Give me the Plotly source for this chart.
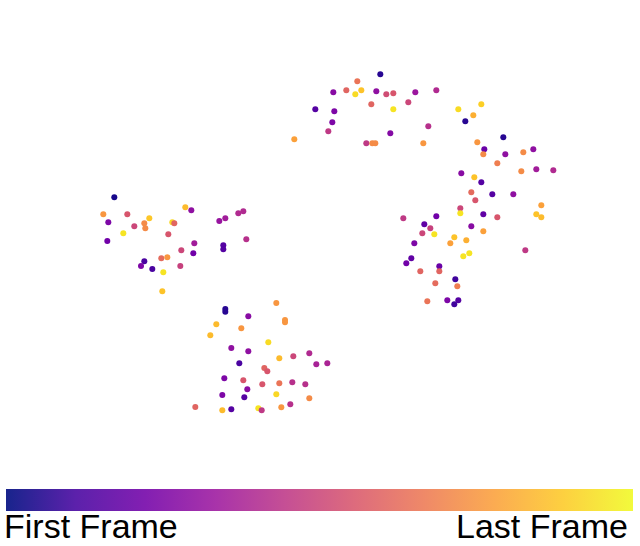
import plotly.graph_objects as go
import plotly.colors as pc

# Point positions (embedding coordinates) and frame fraction (0=first,1=last)
x = [
    # left cluster
    114.3, 103.3, 127.3, 108.3, 134.3, 123.3, 144.3, 145.3, 149.3, 107.3,
    185.3, 191.3, 172.3, 174.3, 168.3, 219.3, 225.3, 238.3, 243.3, 246.3,
    194.3, 193.3, 223.3, 223.3, 181.3, 144.3, 141.0, 152.3, 161.3, 167.3,
    180.3, 163.3, 162.3,
    # bottom cluster
    225.3, 225.3, 276.3, 248.3, 285.0, 285.0, 216.3, 241.3, 210.3, 268.3,
    231.3, 248.3, 279.3, 293.3, 309.3, 316.3, 327.3, 239.3, 264.3, 267.3,
    224.3, 243.3, 262.3, 279.3, 292.3, 305.3, 247.3, 222.3, 244.3, 276.3,
    309.3, 195.3, 222.3, 231.3, 258.3, 261.7, 281.3, 290.3,
    # top arc
    380.3, 357.3, 333.3, 346.3, 361.3, 355.3, 376.3, 386.3, 393.3, 415.3,
    436.3, 315.3, 334.3, 371.3, 393.3, 408.3, 332.3, 328.3, 294.3, 390.3,
    428.3, 366.3, 372.3, 375.3, 423.3, 458.3, 481.3, 473.3, 465.3, 477.3,
    484.3,
    # right cluster
    503.3, 483.3, 505.3, 523.3, 533.3, 497.3, 521.3, 536.3, 553.3, 461.3,
    474.3, 481.3, 471.3, 475.3, 492.3, 513.3, 541.3, 536.3, 541.3, 460.3,
    460.3, 483.3, 497.3, 403.3, 436.3, 424.3, 430.3, 422.3, 434.3, 471.3,
    483.3, 454.3, 466.3, 450.3, 414.3, 469.3, 463.3, 525.3, 411.3, 406.3,
    439.3, 420.3, 439.3, 455.3, 435.3, 457.3, 427.3, 447.3, 458.3, 454.3,
]
y = [
    197.3, 214.3, 214.3, 222.3, 226.3, 233.3, 223.3, 228.3, 218.3, 241.0,
    207.3, 210.3, 222.3, 223.3, 234.3, 221.0, 218.3, 213.3, 211.3, 239.3,
    243.3, 253.3, 245.3, 249.3, 250.3, 261.3, 266.0, 269.0, 258.3, 257.3,
    266.0, 272.3, 291.3,
    309.0, 311.7, 303.0, 316.3, 320.0, 322.3, 324.3, 328.3, 335.3, 342.3,
    348.0, 351.3, 358.3, 356.3, 353.3, 364.3, 363.3, 363.3, 368.0, 371.3,
    378.3, 380.3, 384.3, 383.3, 382.3, 384.3, 389.3, 395.0, 397.3, 394.3,
    398.3, 407.0, 410.3, 409.3, 408.3, 410.3, 407.3, 404.3,
    74.3, 81.3, 92.3, 90.3, 90.3, 94.3, 91.3, 94.3, 93.3, 92.3,
    90.3, 109.3, 111.3, 104.3, 109.3, 102.3, 122.3, 131.3, 139.3, 133.3,
    126.3, 143.3, 143.3, 143.3, 143.3, 109.3, 104.3, 115.3, 121.3, 142.3,
    149.3,
    137.3, 154.3, 154.3, 152.3, 149.3, 163.3, 171.3, 169.3, 170.3, 173.3,
    177.3, 182.3, 192.3, 200.3, 194.3, 194.3, 205.3, 214.3, 217.3, 208.3,
    213.3, 214.3, 217.3, 218.3, 216.3, 224.3, 228.3, 233.3, 234.3, 226.3,
    231.3, 237.3, 240.3, 243.3, 243.3, 253.3, 256.3, 250.3, 258.3, 263.3,
    266.3, 271.3, 271.3, 279.3, 283.3, 286.3, 301.3, 300.3, 300.3, 304.3,
]
frame = [
    0.02, 0.75, 0.55, 0.25, 0.50, 0.95, 0.72, 0.72, 0.88, 0.22,
    0.85, 0.30, 0.92, 0.60, 0.55, 0.32, 0.35, 0.40, 0.40, 0.42,
    0.35, 0.22, 0.15, 0.15, 0.50, 0.12, 0.25, 0.12, 0.62, 0.75,
    0.48, 0.95, 0.87,
    0.05, 0.05, 0.75, 0.28, 0.75, 0.75, 0.85, 0.75, 0.85, 0.93,
    0.30, 0.30, 0.85, 0.50, 0.40, 0.37, 0.38, 0.12, 0.60, 0.55,
    0.25, 0.55, 0.55, 0.65, 0.42, 0.42, 0.28, 0.25, 0.15, 0.92,
    0.72, 0.60, 0.85, 0.15, 0.95, 0.45, 0.75, 0.42,
    0.05, 0.65, 0.28, 0.60, 0.87, 0.93, 0.30, 0.52, 0.55, 0.33,
    0.40, 0.15, 0.25, 0.60, 0.95, 0.50, 0.25, 0.45, 0.78, 0.27,
    0.42, 0.45, 0.72, 0.72, 0.75, 0.93, 0.90, 0.82, 0.05, 0.75,
    0.20,
    0.05, 0.72, 0.30, 0.72, 0.30, 0.68, 0.72, 0.35, 0.40, 0.28,
    0.87, 0.15, 0.62, 0.55, 0.15, 0.30, 0.78, 0.87, 0.85, 0.50,
    0.95, 0.18, 0.55, 0.45, 0.22, 0.18, 0.48, 0.50, 0.95, 0.28,
    0.78, 0.87, 0.82, 0.78, 0.25, 0.95, 0.95, 0.45, 0.18, 0.22,
    0.20, 0.60, 0.60, 0.10, 0.62, 0.68, 0.65, 0.25, 0.15, 0.10,
]
cbar_labels = ["First Frame", "Last Frame"]

# slightly washed-out plasma for the colour bar strip
plasma = pc.sequential.Plasma
def _wash(hexcol, a=0.88):
    r, g, b = pc.hex_to_rgb(hexcol)
    return "rgb(%d,%d,%d)" % tuple(round(a * c + (1 - a) * 255) for c in (r, g, b))
bar_scale = [[i / (len(plasma) - 1), _wash(c)] for i, c in enumerate(plasma)]
bar_scale[0][1] = "rgb(24,36,140)"

fig = go.Figure()
fig.add_trace(go.Scatter(
    x=x, y=y, mode="markers",
    marker=dict(size=6, color=frame, colorscale="Plasma", cmin=0, cmax=1,
                line=dict(width=0), showscale=False),
    hoverinfo="skip", showlegend=False,
))
# carrier trace for the colour bar
fig.add_trace(go.Scatter(
    x=[None], y=[None], mode="markers",
    marker=dict(
        size=0, color=[0], colorscale=bar_scale, cmin=0, cmax=1,
        showscale=True,
        colorbar=dict(
            orientation="h",
            x=319.5 / 640, xanchor="center",
            y=35 / 546, yanchor="bottom",
            len=627, lenmode="pixels",
            thickness=22, thicknessmode="pixels",
            outlinewidth=0, showticklabels=False, ticks="",
            xpad=0, ypad=0,
        ),
    ),
    hoverinfo="skip", showlegend=False,
))

fig.add_annotation(x=3 / 640, y=0, xref="paper", yref="paper",
                   xanchor="left", yanchor="bottom", showarrow=False,
                   borderpad=0, text=cbar_labels[0],
                   font=dict(family="Liberation Sans, Arial", size=34, color="black"))
fig.add_annotation(x=629 / 640, y=0, xref="paper", yref="paper",
                   xanchor="right", yanchor="bottom", showarrow=False,
                   borderpad=0, text=cbar_labels[1],
                   font=dict(family="Liberation Sans, Arial", size=34, color="black"))

fig.update_layout(
    width=640, height=546,
    margin=dict(l=0, r=0, t=0, b=0, autoexpand=False),
    paper_bgcolor="white", plot_bgcolor="white",
    xaxis=dict(range=[0, 640], visible=False, fixedrange=True),
    yaxis=dict(range=[546, 0], visible=False, fixedrange=True),
)

fig.write_html("out.html", config={"displayModeBar": False},
               post_script="document.body.style.margin='0';document.body.style.overflow='hidden';")
